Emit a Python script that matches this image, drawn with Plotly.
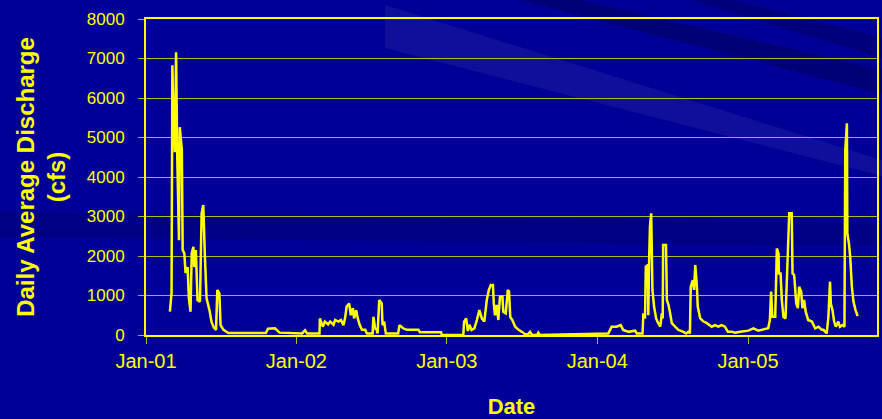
import pandas as pd
import plotly.graph_objects as go

# ---- data (day offsets since 2001-01-01, discharge in cfs) ----
day_offsets = [
    58, 62, 64, 66, 70, 73, 76, 80, 82, 87, 89, 93, 96, 101, 104, 108, 111, 115, 117, 121,
    125, 131, 135, 139, 143, 147, 154, 159, 165, 170, 173, 178, 181, 188, 200, 291, 296, 313,
    324, 379, 386, 391, 421, 422, 429, 434, 442, 447, 455, 459, 467, 473, 479, 483, 487, 493,
    497, 502, 505, 510, 514, 518, 524, 532, 536, 550, 552, 556, 560, 562, 566, 572, 574, 578,
    582, 612, 615, 624, 633, 661, 665, 716, 718, 770, 772, 777, 781, 785, 790, 797, 803, 809,
    815, 821, 827, 832, 837, 842, 844, 847, 851, 855, 859, 865, 867, 873, 878, 881, 884, 889,
    896, 904, 912, 920, 927, 932, 937, 949, 952, 956, 1122, 1130, 1142, 1152, 1158, 1171, 1187,
    1191, 1205, 1207, 1211, 1213, 1218, 1219, 1221, 1223, 1226, 1229, 1233, 1238, 1243, 1248,
    1252, 1254, 1255, 1262, 1264, 1268, 1272, 1276, 1284, 1292, 1304, 1311, 1316, 1320, 1322,
    1327, 1330, 1333, 1337, 1339, 1345, 1353, 1361, 1373, 1381, 1389, 1397, 1405, 1412, 1422,
    1430, 1438, 1442, 1462, 1474, 1486, 1494, 1510, 1514, 1517, 1520, 1527, 1531, 1535, 1536,
    1540, 1543, 1547, 1552, 1556, 1561, 1567, 1569, 1573, 1578, 1582, 1585, 1590, 1593, 1597,
    1601, 1607, 1616, 1624, 1632, 1640, 1644, 1652, 1656, 1660, 1662, 1666, 1670, 1674, 1680,
    1684, 1690, 1695, 1697, 1701, 1702, 1706, 1709, 1713, 1717, 1722, 1727,
]
discharge_cfs = [
    590, 1060, 6830, 5690, 4630, 7160, 4430, 2400, 5260, 4680, 2150, 2070, 1570, 1720, 930, 590,
    2070, 2230, 1720, 2150, 885, 840, 3080, 3290, 1970, 930, 630, 330, 180, 130, 1140, 1060, 250,
    130, 50, 50, 160, 170, 60, 40, 120, 40, 40, 420, 210, 340, 270, 340, 260, 380, 340, 380, 250,
    420, 720, 800, 500, 680, 420, 630, 420, 270, 130, 130, 40, 40, 460, 170, 130, 40, 885, 800,
    250, 340, 40, 40, 250, 170, 130, 130, 70, 70, 0, 0, 340, 420, 100, 260, 130, 170, 380, 630,
    420, 340, 885, 1140, 1265, 1265, 800, 500, 760, 380, 970, 970, 590, 550, 1140, 1100, 460,
    380, 210, 130, 80, 20, 20, 80, 0, 0, 60, 0, 40, 210, 210, 250, 130, 80, 110, 40, 40, 550,
    420, 1730, 1770, 500, 1900, 2740, 3080, 1140, 720, 420, 300, 210, 550, 420, 2280, 2280, 890,
    760, 550, 300, 210, 130, 80, 40, 80, 40, 1220, 1390, 1140, 1770, 1220, 720, 420, 340, 300,
    210, 250, 210, 250, 210, 80, 80, 60, 80, 80, 110, 170, 110, 130, 170, 380, 1100, 460, 460,
    2190, 2060, 1560, 1560, 885, 460, 420, 1480, 3080, 3080, 1560, 1520, 800, 680, 1220, 1100,
    680, 885, 590, 380, 340, 170, 210, 130, 130, 40, 460, 1350, 790, 630, 340, 210, 340, 210,
    250, 210, 4680, 5360, 2570, 2310, 1980, 1220, 840, 630, 480,
]
record_start = "2001-01-01"
x_range = ["2001-01-01", "2005-11-10"]
y_range = [0, 8000]
y_title = "Daily Average Discharge<br>(cfs)"
x_title = "Date"

dates = pd.Timestamp(record_start) + pd.to_timedelta(day_offsets, unit="D")

YELLOW = "#FFFF00"
GRID = "rgb(180,180,40)"
BG = "rgb(0,0,150)"
W, H = 882, 419
L, R, T, B = 146, 5, 19, 84
pw, ph = W - L - R, H - T - B


def px(x, y):
    """figure pixel -> paper coordinates"""
    return (x - L) / pw, (H - B - y) / ph


def poly(points, color):
    parts = []
    for i, (x, y) in enumerate(points):
        u, v = px(x, y)
        parts.append(("M" if i == 0 else "L") + f"{u:.4f},{v:.4f}")
    return dict(type="path", xref="paper", yref="paper", path=" ".join(parts) + " Z",
                fillcolor=color, line=dict(width=0), layer="below")


fig = go.Figure()
fig.add_trace(go.Scatter(x=dates, y=discharge_cfs, mode="lines",
                         line=dict(color=YELLOW, width=2.5), hoverinfo="x+y"))

shapes = [
    poly([(0, 212), (882, 224), (882, 246), (0, 237)], "rgba(0,0,40,0.15)"),
    poly([(520, 0), (580, 0), (882, 70), (882, 94)], "rgba(0,0,50,0.30)"),
    poly([(690, 0), (735, 0), (882, 38), (882, 58)], "rgba(0,0,50,0.25)"),
    poly([(385, 5), (882, 160), (882, 176), (385, 48)], "rgba(255,255,255,0.06)"),
]

fig.update_layout(
    width=W, height=H,
    margin=dict(l=L, r=R, t=T, b=B, pad=0, autoexpand=False),
    paper_bgcolor=BG, plot_bgcolor="rgba(0,0,0,0)",
    showlegend=False, shapes=shapes,
    font=dict(family="Liberation Sans, Arial, sans-serif", color=YELLOW),
    xaxis=dict(
        type="date", range=x_range, tick0="2001-01-01", dtick="M12", tickformat="%b-%y",
        showgrid=False, showline=True, linecolor=YELLOW, linewidth=2, mirror=True,
        ticks="outside", ticklen=7, tickwidth=1, tickcolor=GRID, automargin=False,
        tickfont=dict(size=20, color=YELLOW),
        title=dict(text=x_title, font=dict(size=22, color=YELLOW, weight="bold"), standoff=31),
        zeroline=False,
    ),
    yaxis=dict(
        range=y_range, dtick=1000, showgrid=True, gridcolor=GRID, gridwidth=1,
        showline=True, linecolor=YELLOW, linewidth=2, mirror=True, automargin=False,
        ticks="outside", ticklen=6, tickwidth=1, tickcolor=GRID, ticklabelstandoff=10,
        tickfont=dict(size=17, color=YELLOW),
        title=dict(text=y_title, font=dict(size=24, color=YELLOW, weight="bold"), standoff=14),
        zeroline=False,
    ),
)

fig.write_html(
    "out.html",
    config={"displayModeBar": False},
    post_script="document.body.style.margin='0';document.body.style.background='rgb(0,0,150)';",
)
